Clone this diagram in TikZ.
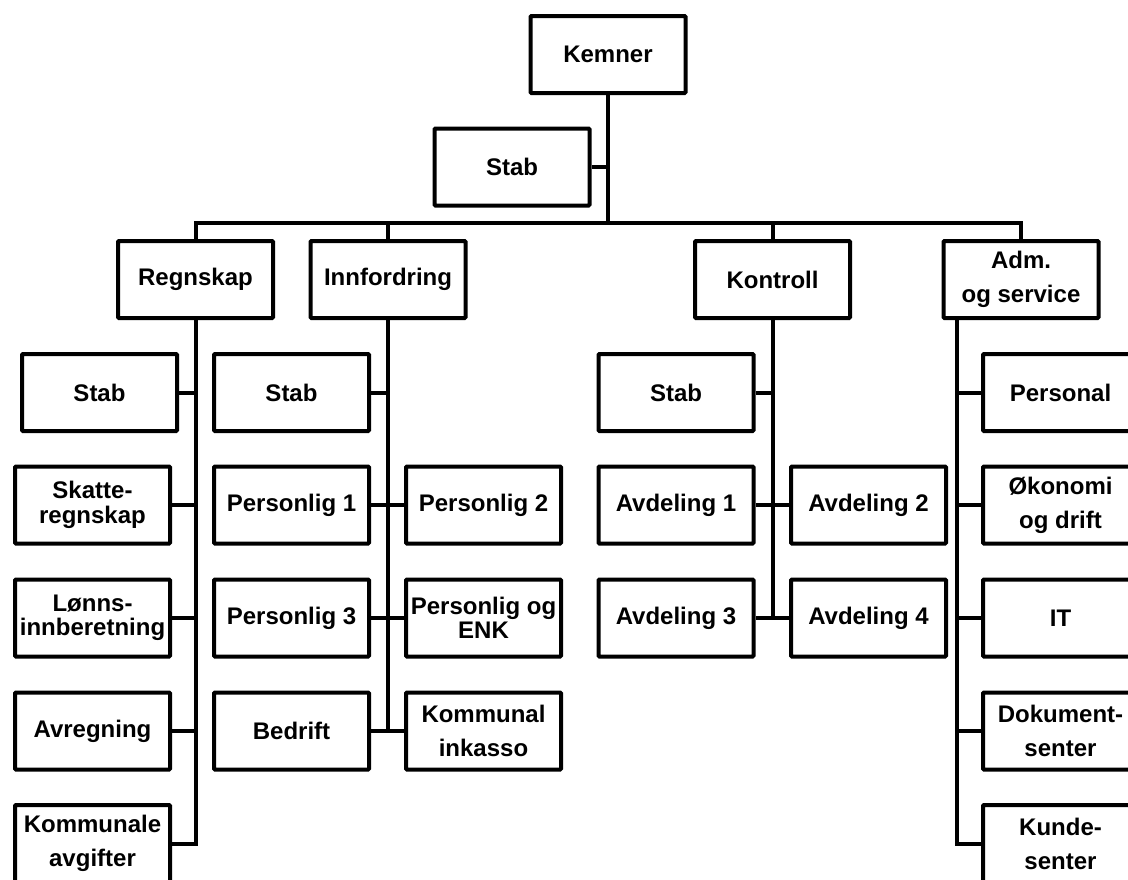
\documentclass[tikz,border=0pt]{standalone}
\usepackage{fontspec}
\setmainfont{Liberation Sans}
\begin{document}
\begin{tikzpicture}[x=1pt,y=-1pt,
  box/.style={draw=black, line width=4pt, rounded corners=1pt, fill=white,
    minimum width=155pt, minimum height=77pt, inner sep=0pt, align=center,
    font=\bfseries\fontsize{24}{34}\selectfont},
  tight/.style={font=\bfseries\fontsize{24}{24.5}\selectfont},
  conn/.style={line width=4pt, line join=miter, line cap=butt}]
\useasboundingbox (0,0) rectangle (1128,879);
\clip (0,0) rectangle (1128,879);
\fill[white] (0,0) rectangle (1128,879);

% top level
\node[box] (kemner) at (608,54.5) {Kemner};
\node[box] (stab0) at (512,167) {Stab};
\node[box] (regnskap) at (195.5,279.5) {Regnskap};
\node[box] (innfordring) at (388,279.5) {Innfordring};
\node[box] (kontroll) at (772.5,279.5) {Kontroll};
\node[box] (adm) at (1021,279.5) {Adm.\\og service};

% Regnskap column
\node[box] (a1) at (99.5,392.5) {Stab};
\node[box,tight] (a2) at (92.5,505) {Skatte-\\regnskap};
\node[box,tight] (a3) at (92.5,618) {Lønns-\\innberetning};
\node[box] (a4) at (92.5,731) {Avregning};
\node[box] (a5) at (92.5,843.5) {Kommunale\\avgifter};

% Innfordring columns
\node[box] (b1) at (291.5,392.5) {Stab};
\node[box] (b2) at (291.5,505) {Personlig 1};
\node[box] (b3) at (291.5,618) {Personlig 3};
\node[box] (b4) at (291.5,731) {Bedrift};
\node[box] (c2) at (483.5,505) {Personlig 2};
\node[box,tight] (c3) at (483.5,618) {Personlig og\\ENK};
\node[box] (c4) at (483.5,731) {Kommunal\\inkasso};

% Kontroll columns
\node[box] (d1) at (676,392.5) {Stab};
\node[box] (d2) at (676,505) {Avdeling 1};
\node[box] (d3) at (676,618) {Avdeling 3};
\node[box] (e2) at (868.5,505) {Avdeling 2};
\node[box] (e3) at (868.5,618) {Avdeling 4};

% Adm column
\node[box] (f1) at (1060.5,392.5) {Personal};
\node[box] (f2) at (1060.5,505) {Økonomi\\og drift};
\node[box] (f3) at (1060.5,618) {IT};
\node[box] (f4) at (1060.5,731) {Dokument-\\senter};
\node[box] (f5) at (1060.5,843.5) {Kunde-\\senter};

% bus
\coordinate (busL) at (195.5,223);
\coordinate (busR) at (1021,223);
\coordinate (admdrop) at ([xshift=-64pt]adm.south);

\draw[conn] (kemner.south) -- (kemner.south |- busL);
\draw[conn] (stab0.east) -- (stab0.east -| kemner.south);
\draw[conn] (regnskap.north) -- (busL) -- (busR) -- (adm.north);
\draw[conn] (innfordring.north) -- (innfordring.north |- busL);
\draw[conn] (kontroll.north) -- (kontroll.north |- busL);

% Regnskap
\draw[conn] (a5.east) -| (regnskap.south);
\foreach \n in {a1,a2,a3,a4}
  \draw[conn] (\n.east) -- (\n.east -| regnskap.south);

% Innfordring
\draw[conn] (b4.east) -| (innfordring.south);
\foreach \n in {b1,b2,b3}
  \draw[conn] (\n.east) -- (\n.east -| innfordring.south);
\foreach \n in {c2,c3,c4}
  \draw[conn] (\n.west) -- (\n.west -| innfordring.south);

% Kontroll
\draw[conn] (d3.east) -| (kontroll.south);
\foreach \n in {d1,d2}
  \draw[conn] (\n.east) -- (\n.east -| kontroll.south);
\foreach \n in {e2,e3}
  \draw[conn] (\n.west) -- (\n.west -| kontroll.south);

% Adm
\draw[conn] (f5.west) -| (admdrop);
\foreach \n in {f1,f2,f3,f4}
  \draw[conn] (\n.west) -- (\n.west -| admdrop);
\end{tikzpicture}
\end{document}
